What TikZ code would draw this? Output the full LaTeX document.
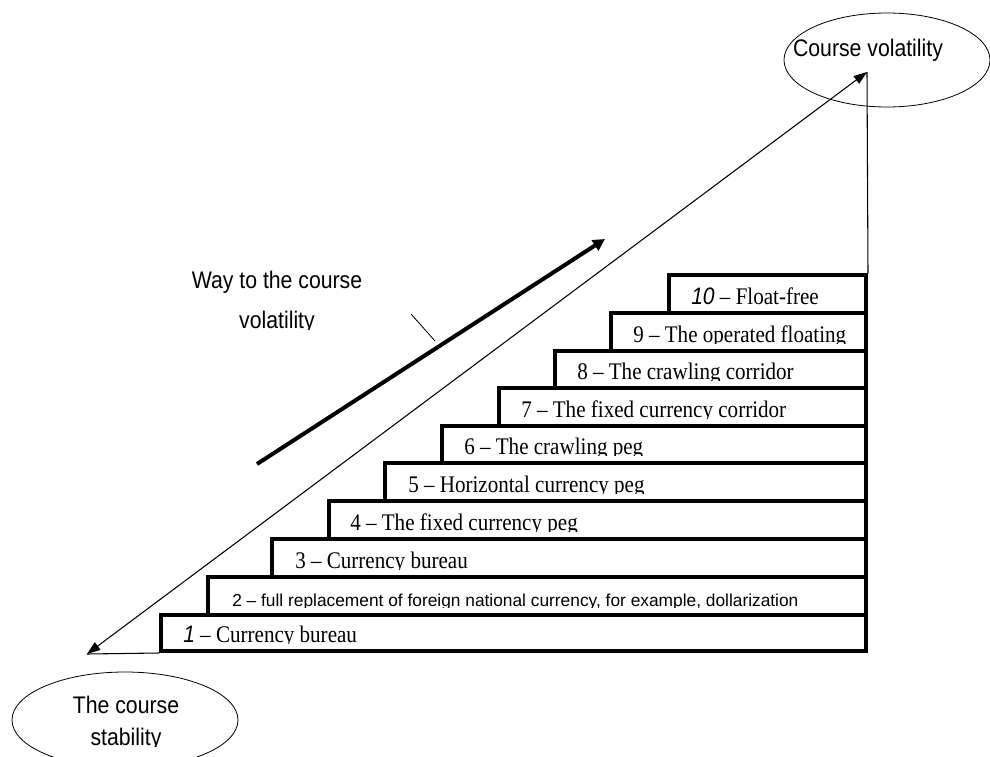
\documentclass[tikz,border=0pt]{standalone}
\usepackage{fontspec}
\setmainfont[FakeStretch=0.885]{Liberation Serif}
\newfontfamily\arialf[FakeStretch=0.885]{Liberation Sans}
\newfontfamily\arialplain{Liberation Sans}
\usetikzlibrary{arrows.meta,shapes.geometric}
\begin{document}
\begin{tikzpicture}[x=0.75pt,y=-0.75pt,
  stepbox/.style={draw, line width=2.8pt, rectangle, inner sep=0pt, anchor=south east},
  steptext/.style={anchor=base west, inner sep=0pt, font=\fontsize{17.85}{20}\selectfont},
  ovalbox/.style={draw, ellipse, line width=0.6pt, inner sep=0pt},
  labeltext/.style={inner sep=0pt, anchor=base, font=\arialf\fontsize{18}{20}\selectfont},
  thinarrow/.style={line width=0.8pt, {Triangle[length=10pt,width=7pt]}-{Triangle[length=10pt,width=7pt]}},
  thickarrow/.style={line width=3pt, -{Triangle[length=9pt,width=9pt]}}]
\useasboundingbox (0,0) rectangle (990,757);

% steps
\node[stepbox, minimum width=528.75pt, minimum height=27pt]   (b1)  at (868,653) {};
\node[stepbox, minimum width=493.5pt,  minimum height=28.5pt] (b2)  at (868,617) {};
\node[stepbox, minimum width=445.5pt,  minimum height=28.5pt] (b3)  at (868,579) {};
\node[stepbox, minimum width=402.75pt, minimum height=28.5pt] (b4)  at (868,541) {};
\node[stepbox, minimum width=360.75pt, minimum height=28.5pt] (b5)  at (868,503) {};
\node[stepbox, minimum width=318pt,    minimum height=27.75pt] (b6) at (868,465) {};
\node[stepbox, minimum width=275.25pt, minimum height=28.5pt] (b7)  at (868,428) {};
\node[stepbox, minimum width=233.25pt, minimum height=27.75pt] (b8) at (868,390) {};
\node[stepbox, minimum width=191.25pt, minimum height=28.5pt] (b9)  at (868,353) {};
\node[stepbox, minimum width=147.75pt, minimum height=28.5pt] (b10) at (868,315) {};

% step texts (clipped as in the original)
\begin{scope}\clip (165,619) rectangle (866,643.5);
\node[steptext] (t1) at (183,642) {{\arialf\itshape 1} – Currency bureau};\end{scope}
\begin{scope}\clip (212,581) rectangle (866,607.5);
\node[steptext, font=\arialplain\fontsize{13}{15}\selectfont] (t2) at (232,606) {2 – full replacement of foreign national currency, for example, dollarization};\end{scope}
\begin{scope}\clip (276,543) rectangle (866,569.5);
\node[steptext] (t3) at (295,568) {3 – Currency bureau};\end{scope}
\begin{scope}\clip (333,505) rectangle (866,531.5);
\node[steptext] (t4) at (350,530) {4 – The fixed currency peg};\end{scope}
\begin{scope}\clip (389,467) rectangle (866,493.5);
\node[steptext] (t5) at (408,492) {5 – Horizontal currency peg};\end{scope}
\begin{scope}\clip (446,430) rectangle (866,455.5);
\node[steptext] (t6) at (464,454) {6 – The crawling peg};\end{scope}
\begin{scope}\clip (503,392) rectangle (866,418.5);
\node[steptext] (t7) at (521,417) {7 – The fixed currency corridor};\end{scope}
\begin{scope}\clip (559,355) rectangle (866,380.5);
\node[steptext] (t8) at (577,379) {8 – The crawling corridor};\end{scope}
\begin{scope}\clip (615,317) rectangle (866,343.5);
\node[steptext] (t9) at (633,342) {9 – The operated floating};\end{scope}
\begin{scope}\clip (673,279) rectangle (866,305.5);
\node[steptext] (t10) at (691,304) {{\arialf\itshape 10} – Float-free};\end{scope}

% ovals
\node[ovalbox, minimum width=154.5pt, minimum height=70.5pt] (vol) at (887,60) {};
\node[labeltext] (voltext) at (868,56) {Course volatility};
\node[ovalbox, minimum width=169.5pt, minimum height=72pt] (stab) at (125,720) {};
\node[labeltext] (stab1) at (126,713) {The course};
\begin{scope}\clip (0,720) rectangle (260,746.5);
\node[labeltext] (stab2) at (126,745) {stability};\end{scope}

% way label
\node[labeltext] (way1) at (277,288) {Way to the course};
\begin{scope}\clip (150,300) rectangle (400,329.5);
\node[labeltext] (way2) at (277,328) {volatility};\end{scope}

% connectors
\coordinate (low) at (87,654);
\coordinate (high) at (867,72);
\draw[thinarrow] (low) -- (high);
\draw[line width=0.8pt] (low) -- (b1.south west);
\draw[line width=0.8pt] (high) -- (b10.north east);
\coordinate (wayA) at (257,464);
\coordinate (wayB) at (605,239);
\draw[thickarrow] (wayA) -- (wayB);
\coordinate (tickA) at (411,314);
\coordinate (tickB) at (435,341);
\draw[line width=0.6pt] (tickA) -- (tickB);
\end{tikzpicture}
\end{document}
